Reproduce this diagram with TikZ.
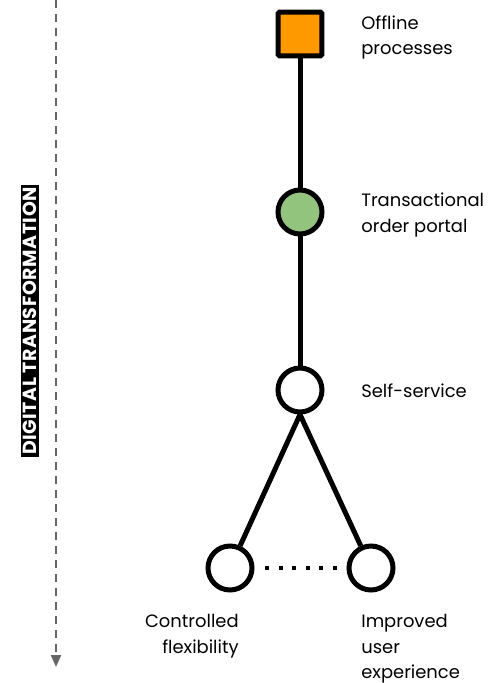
\documentclass[tikz,border=0pt]{standalone}
\usepackage{fontspec}
\setmainfont{Poppins}
\usetikzlibrary{arrows.meta}

\definecolor{offline}{HTML}{FF9900}
\definecolor{portal}{HTML}{93C47D}

\begin{document}
\begin{tikzpicture}[x=0.02cm,y=-0.02cm,
                    stage/.style={circle,draw,line width=0.1cm,fill=white,minimum size=0.88cm,inner sep=0pt},
                    start/.style={rectangle,draw,line width=0.1cm,rounded corners=1pt,fill=offline,minimum size=0.88cm,inner sep=0pt},
                    link/.style={line width=0.1cm},
                    label/.style={anchor=north west,align=left,inner sep=0pt,font=\fontsize{10.2}{14.6}\selectfont}
]
\useasboundingbox (0,0) rectangle (495,683);

\node [start] at (300,34) (offline) {};
\node [stage,fill=portal] at (300,212) (portal) {};
\node [stage] at (300,390) (self) {};
\node [stage] at (230,568) (flex) {};
\node [stage] at (371,568) (ux) {};
%
\draw [link] (offline) -- (portal);
\draw [link] (portal) -- (self);
\draw [link] (self.south) -- (flex);
\draw [link] (self.south) -- (ux);
\draw [line width=0.08cm,dash pattern=on 0.08cm off 0.19cm,shorten <=0.22cm,shorten >=0.12cm] (flex) -- (ux);
%
\node [label] at (361,15) (offlinetext) {Offline\\processes};
\node [label] at (361,193) (portaltext) {Transactional\\order portal};
\node [label] at (361,383) (selftext) {Self-service};
\node [label,anchor=north east,align=right] at (239,614) (flextext) {Controlled\\flexibility};
\node [label] at (361,614) (uxtext) {Improved\\user\\experience};
%
\coordinate (ttop) at (56,0);
\coordinate (tbottom) at (56,667);
\draw [gray!80!black,line width=0.045cm,dash pattern=on 0.16cm off 0.12cm,-{Triangle[length=0.24cm,width=0.2cm]}] (ttop) -- (tbottom);
\node [fill=black,text=white,rotate=90,inner xsep=0.05cm,inner ysep=0.05cm,font=\fontsize{10.8}{11}\selectfont\bfseries\addfontfeatures{LetterSpace=3}] at (30,321) (axis) {DIGITAL TRANSFORMATION};
\end{tikzpicture}
\end{document}
